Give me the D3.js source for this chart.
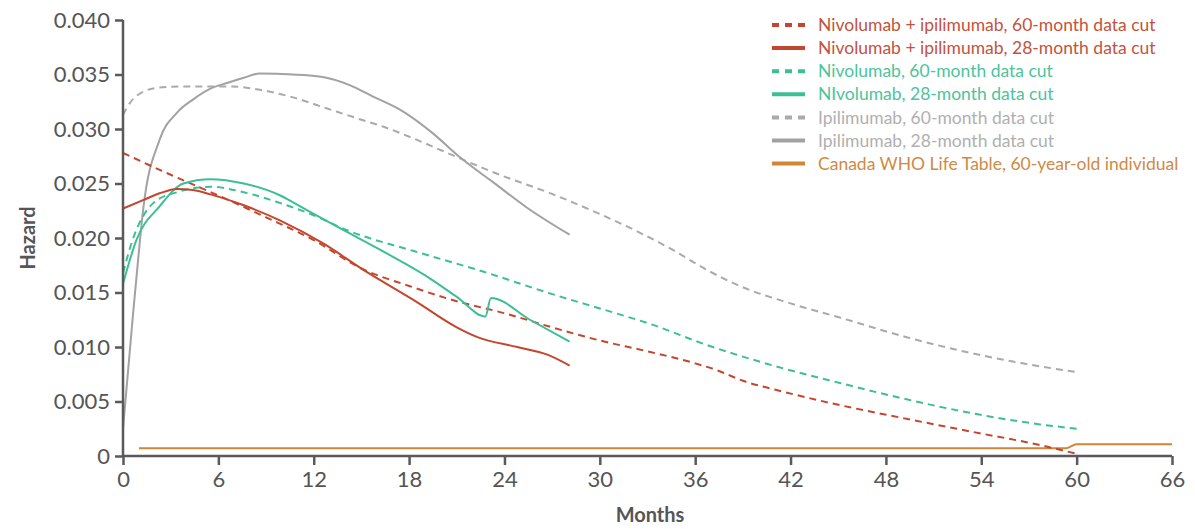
<!DOCTYPE html>
<html>
<head>
<meta charset="utf-8">
<script src="https://cdn.jsdelivr.net/npm/d3@7"></script>
<style>
  html, body { margin: 0; padding: 0; background: #fff; }
  svg { display: block; }
  text { font-family: Lato, "Open Sans", sans-serif; }
</style>
</head>
<body>
<svg id="chart" width="1195" height="529"></svg>
<script>
// ---- Data (months, hazard) ----
const nivoIpi60 = [[0,0.0278],[3,0.0258],[6,0.0239],[9,0.0219],[12,0.0198],[15,0.0172],[18,0.0156],[21,0.0142],[24,0.0131],[27,0.0118],[30,0.0106],[33,0.0096],[36,0.0085],[37.5,0.0078],[39,0.0069],[41,0.0061],[45,0.0047],[49,0.0035],[53.5,0.0022],[57.7,0.0010],[60,0.0002]];
const nivoIpi28 = [[0,0.0227],[1.3,0.0235],[2.3,0.0241],[3.4,0.0245],[4.4,0.0244],[5.5,0.0240],[7.6,0.0230],[9.9,0.0216],[12.6,0.0195],[15.1,0.0171],[18.3,0.0143],[21,0.0118],[22.3,0.0109],[24.8,0.0100],[26.7,0.0093],[28.1,0.0083]];
const nivo60 = [[0,0.0168],[0.6,0.0198],[1.9,0.0232],[3.4,0.0242],[5.5,0.0247],[7.6,0.0242],[9.7,0.0233],[11.8,0.0222],[14.3,0.0206],[18.3,0.0188],[22.7,0.0169],[26.9,0.0149],[31,0.0131],[33.2,0.0121],[36.7,0.0102],[40.9,0.0083],[45.1,0.0067],[49.3,0.0052],[53.5,0.0039],[57.7,0.0029],[60,0.0025]];
const nivo28 = [[0,0.0158],[0.84,0.0198],[2.3,0.0229],[3.8,0.0250],[5.5,0.0254],[7.6,0.0250],[9.9,0.0239],[10.9,0.0231],[13.65,0.0209],[16.2,0.0189],[19.3,0.0163],[21,0.0146],[22.8,0.0128],[23.15,0.0145],[25.6,0.0125],[28.1,0.0105]];
const ipi60 = [[0,0.0313],[0.44,0.0324],[1.26,0.0334],[2.3,0.0338],[4,0.0339],[6.9,0.0339],[8.6,0.0336],[10.7,0.0329],[12.8,0.0319],[14.9,0.0309],[16.4,0.0302],[18.5,0.0290],[21.2,0.0273],[23.7,0.0258],[26.9,0.0241],[30,0.0222],[32.5,0.0205],[34.6,0.0189],[36.7,0.0171],[38.8,0.0156],[42,0.0140],[45.1,0.0127],[49.3,0.0109],[53.5,0.0094],[56.6,0.0085],[60,0.0077]];
const ipi28 = [[0,0.0025],[0.63,0.0130],[0.95,0.0180],[1.26,0.0225],[2.3,0.0290],[3.4,0.0315],[4.4,0.0327],[5.5,0.0337],[6.5,0.0342],[7.6,0.0347],[8.6,0.0351],[10.7,0.0350],[12.8,0.0347],[14.3,0.0340],[15.7,0.0330],[17.4,0.0318],[19.5,0.0296],[21.2,0.0274],[23.3,0.0251],[25.4,0.0228],[28.1,0.0203]];
const lifeTable = [[1,0.0007],[59.3,0.0007],[60,0.00107],[66,0.00107]];

const xTicks = [0,6,12,18,24,30,36,42,48,54,60,66];
const yTicks = [0,0.005,0.010,0.015,0.020,0.025,0.030,0.035,0.040];

const series = [
  { name: "Nivolumab + ipilimumab, 60-month data cut", data: nivoIpi60, color: "#c4462f", text: "#c4523c", dash: true },
  { name: "Nivolumab + ipilimumab, 28-month data cut", data: nivoIpi28, color: "#c4462f", text: "#c4523c", dash: false },
  { name: "Nivolumab, 60-month data cut", data: nivo60, color: "#3dbf95", text: "#4cc49c", dash: true },
  { name: "NIvolumab, 28-month data cut", data: nivo28, color: "#3dbf95", text: "#4cc49c", dash: false },
  { name: "Ipilimumab, 60-month data cut", data: ipi60, color: "#aaaaaa", text: "#b0b0b0", dash: true },
  { name: "Ipilimumab, 28-month data cut", data: ipi28, color: "#a3a1a2", text: "#b0b0b0", dash: false },
  { name: "Canada WHO Life Table, 60-year-old individual", data: lifeTable, color: "#cf8636", text: "#cf8a44", dash: false }
];

// ---- Drawing ----
const svg = d3.select("#chart");
const x = d3.scaleLinear().domain([0, 66]).range([123, 1172]);
const y = d3.scaleLinear().domain([0, 0.04]).range([456, 20]);

const axisColor = "#5a5a5a";

// lines
const line = d3.line().x(d => x(d[0])).y(d => y(d[1])).curve(d3.curveMonotoneX);
const order = [6, 4, 5, 2, 0, 3, 1];
order.forEach(i => {
  const s = series[i];
  svg.append("path")
    .attr("d", line(s.data))
    .attr("fill", "none")
    .attr("stroke", s.color)
    .attr("stroke-width", 2)
    .attr("stroke-dasharray", s.dash ? "7,5" : null)
    .attr("stroke-linejoin", "round");
});

// x axis
const xAxis = svg.append("g")
  .attr("transform", `translate(0,${y(0)})`)
  .call(d3.axisBottom(x).tickValues(xTicks).tickSize(9).tickPadding(6).tickFormat(d3.format("d")));
// y axis
const yAxis = svg.append("g")
  .attr("transform", `translate(${x(0)},0)`)
  .call(d3.axisLeft(y).tickValues(yTicks).tickSize(8).tickPadding(5)
    .tickFormat(d => d === 0 ? "0" : d3.format(".3f")(d)));

[xAxis, yAxis].forEach(g => {
  g.select(".domain").attr("stroke", axisColor).attr("stroke-width", 2.5);
  g.selectAll(".tick line").attr("stroke", axisColor).attr("stroke-width", 2.5);
  g.selectAll(".tick text").attr("fill", "#555").attr("font-size", 22).attr("font-family", "Lato, sans-serif");
});
xAxis.select(".domain").attr("d", `M${x(0)},0H${x(66)}`);
yAxis.select(".domain").attr("d", `M0,${y(0.04)}V${y(0)}`);

// axis titles
svg.append("text")
  .attr("x", 650).attr("y", 522)
  .attr("text-anchor", "middle")
  .attr("font-size", 20).attr("font-weight", "bold").attr("fill", "#555")
  .text("Months");
svg.append("text")
  .attr("transform", "translate(35,238) rotate(-90)")
  .attr("text-anchor", "middle")
  .attr("font-size", 20).attr("font-weight", "bold").attr("fill", "#555")
  .text("Hazard");

// legend
const lg = svg.append("g");
series.forEach((s, i) => {
  const yy = 25 + i * 23.1;
  lg.append("line")
    .attr("x1", 772).attr("x2", 805).attr("y1", yy).attr("y2", yy)
    .attr("stroke", s.color).attr("stroke-width", 4)
    .attr("stroke-dasharray", s.dash ? "7,6" : null);
  lg.append("text")
    .attr("x", 818).attr("y", yy).attr("dy", "0.35em")
    .attr("font-size", 17.5).attr("fill", s.text)
    .text(s.name);
});
</script>
</body>
</html>
